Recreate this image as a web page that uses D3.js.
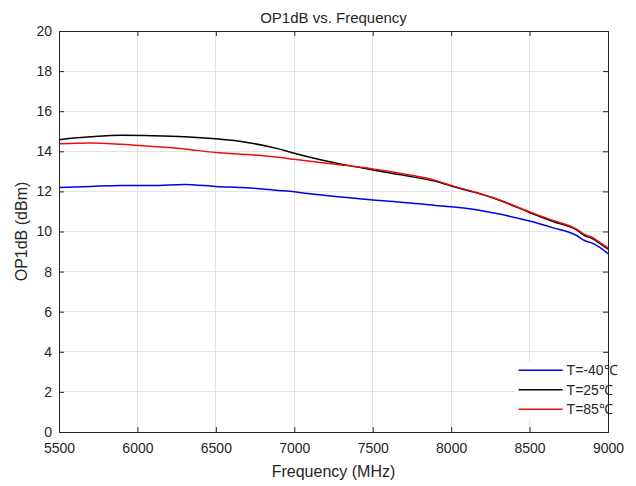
<!DOCTYPE html>
<html>
<head>
<meta charset="utf-8">
<script src="https://cdn.jsdelivr.net/npm/d3@7"></script>
<style>
  html, body { margin: 0; padding: 0; background: #fff; }
  svg text { font-family: "Liberation Sans", Arial, sans-serif; fill: #262626; }
</style>
</head>
<body>
<div id="chart"></div>
<script>
// Frequency points (MHz)
const freqs = [5500, 5700, 5900, 6100, 6300, 6500, 6700, 6900, 7000, 7100, 7300, 7500,
               7700, 7900, 8000, 8150, 8300, 8500, 8650, 8800, 8850, 8900, 8950, 9000];

// OP1dB (dBm) per temperature
const opM40 = [12.19, 12.25, 12.30, 12.30, 12.35, 12.25, 12.18, 12.05, 11.98, 11.88, 11.72, 11.57,
               11.45, 11.30, 11.24, 11.10, 10.88, 10.52, 10.18, 9.80, 9.55, 9.42, 9.20, 8.90];
const op25  = [14.58, 14.72, 14.80, 14.78, 14.73, 14.62, 14.44, 14.12, 13.90, 13.70, 13.36, 13.07,
               12.80, 12.50, 12.27, 11.95, 11.58, 10.95, 10.50, 10.08, 9.80, 9.65, 9.40, 9.12];
const op85  = [14.38, 14.42, 14.35, 14.24, 14.12, 13.94, 13.84, 13.70, 13.60, 13.50, 13.32, 13.12,
               12.87, 12.55, 12.30, 11.97, 11.60, 10.98, 10.55, 10.12, 9.86, 9.70, 9.45, 9.18];

const seriesNames = ['T=-40\u2103', 'T=25\u2103', 'T=85\u2103'];
const seriesColors = ['#0000f0', '#000000', '#e81010'];
const xTicks = [5500, 6000, 6500, 7000, 7500, 8000, 8500, 9000];
const yTicks = [0, 2, 4, 6, 8, 10, 12, 14, 16, 18, 20];

const W = 636, H = 486;
const margin = { top: 31, right: 28, bottom: 54, left: 59 };
const iw = W - margin.left - margin.right;
const ih = H - margin.top - margin.bottom;

const svg = d3.select('#chart').append('svg')
  .attr('width', W).attr('height', H);

const g = svg.append('g').attr('transform', `translate(${margin.left},${margin.top})`);

const x = d3.scaleLinear().domain([5500, 9000]).range([0, iw]);
const y = d3.scaleLinear().domain([0, 20]).range([ih, 0]);

// grid
g.append('g').selectAll('line').data(xTicks).join('line')
  .attr('x1', d => x(d)).attr('x2', d => x(d)).attr('y1', 0).attr('y2', ih)
  .attr('stroke', '#e3e3e3').attr('stroke-width', 1).attr('shape-rendering', 'crispEdges');
g.append('g').selectAll('line').data(yTicks).join('line')
  .attr('x1', 0).attr('x2', iw).attr('y1', d => y(d)).attr('y2', d => y(d))
  .attr('stroke', '#e3e3e3').attr('stroke-width', 1).attr('shape-rendering', 'crispEdges');

// data lines
const series = [opM40, op25, op85];
const line = d3.line().x((d, i) => x(freqs[i])).y(d => y(d)).curve(d3.curveMonotoneX);
series.forEach((vals, k) => {
  g.append('path').datum(vals)
    .attr('fill', 'none')
    .attr('stroke', seriesColors[k])
    .attr('stroke-width', 1.5)
    .attr('d', line);
});

// axes (ticks inward, box on)
function styleAxis(sel) {
  sel.select('.domain').remove();
  sel.selectAll('.tick line').attr('stroke', '#262626');
  sel.selectAll('.tick text').attr('font-size', '14px').attr('fill', '#262626')
    .style('font-family', '"Liberation Sans", Arial, sans-serif');
}
g.append('g').attr('transform', `translate(0,${ih})`)
  .call(d3.axisBottom(x).tickValues(xTicks).tickSizeInner(-5).tickSizeOuter(0).tickPadding(11).tickFormat(d3.format('d')))
  .call(styleAxis);
g.append('g')
  .call(d3.axisLeft(y).tickValues(yTicks).tickSizeInner(-5).tickSizeOuter(0).tickPadding(7))
  .call(styleAxis);
g.append('g')
  .call(d3.axisTop(x).tickValues(xTicks).tickSizeInner(-5).tickSizeOuter(0).tickFormat(''))
  .call(styleAxis);
g.append('g').attr('transform', `translate(${iw},0)`)
  .call(d3.axisRight(y).tickValues(yTicks).tickSizeInner(-5).tickSizeOuter(0).tickFormat(''))
  .call(styleAxis);

// legend (white box, no border)
const leg = g.append('g').attr('transform', `translate(${x(8430)},${y(3.08)})`);
leg.append('rect').attr('x', -4).attr('y', -8).attr('width', 113).attr('height', 57).attr('fill', '#fff');
seriesNames.forEach((name, k) => {
  const ly = k * 19.5;
  leg.append('line').attr('x1', 0).attr('x2', 44).attr('y1', ly).attr('y2', ly)
    .attr('stroke', seriesColors[k]).attr('stroke-width', 1.5);
  leg.append('text').attr('x', 48).attr('y', ly).attr('dy', '0.35em')
    .attr('font-size', '14px').text(name);
});

// box
g.append('rect').attr('width', iw).attr('height', ih)
  .attr('fill', 'none').attr('stroke', '#262626').attr('stroke-width', 1)
  .attr('shape-rendering', 'crispEdges');

// title and labels
svg.append('text').attr('x', margin.left + iw / 2).attr('y', 23)
  .attr('text-anchor', 'middle').attr('font-size', '15px').attr('fill', '#000')
  .text('OP1dB vs. Frequency');
svg.append('text').attr('x', margin.left + iw / 2).attr('y', 477)
  .attr('text-anchor', 'middle').attr('font-size', '16px')
  .text('Frequency (MHz)');
svg.append('text')
  .attr('transform', `translate(27,${margin.top + ih / 2}) rotate(-90)`)
  .attr('text-anchor', 'middle').attr('font-size', '16px')
  .text('OP1dB (dBm)');
</script>
</body>
</html>
